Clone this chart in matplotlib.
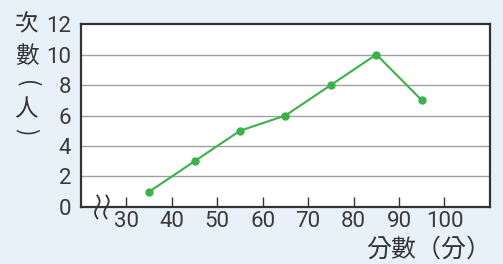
import matplotlib.pyplot as plt
import numpy as np

# score (x) vs number of people (y)
scores = [35, 45, 55, 65, 75, 85, 95]
people = [1, 3, 5, 6, 8, 10, 7]
x_ticks = [30, 40, 50, 60, 70, 80, 90, 100]
y_ticks = [0, 2, 4, 6, 8, 10, 12]

plt.rcParams['font.family'] = ['Roboto', 'Noto Sans CJK TC', 'DejaVu Sans']

bg = '#e8f0fa'
dark = '#333333'
green = '#3cb04a'
cjk = ['Noto Sans CJK TC']

fig = plt.figure(figsize=(5.03, 2.64), dpi=100, facecolor=bg)
ax = fig.add_axes([0.161, 0.216, 0.813, 0.693])
ax.set_facecolor('white')

ax.set_xlim(20, 110)
ax.set_ylim(0, 12)

for y in y_ticks[1:-1]:
    ax.axhline(y, color='#a0a0a0', lw=1.0, zorder=1)

ax.plot(scores, people, color=green, lw=1.5, marker='o', ms=5, zorder=3)

ax.set_xticks(x_ticks)
ax.set_yticks(y_ticks)
ax.tick_params(axis='x', direction='in', length=7, width=1, color=dark,
               labelsize=16, labelcolor='#3a3a3a', pad=3)
ax.tick_params(axis='y', length=0, labelsize=16, labelcolor='#3a3a3a', pad=7)

for s in ax.spines.values():
    s.set_color(dark)
    s.set_linewidth(1.6)

# axis break squiggles on the x axis
t = np.linspace(-1, 1, 40)
for dx in (0, 2.0):
    xs = 23.6 + dx + 0.5 * np.sin(t * np.pi)
    ys = t * 0.75
    ax.plot(xs, ys, color=dark, lw=1.3, clip_on=False, zorder=5)

# vertical y label, one character at a time
ylab = [('次', 25, 0, 17), ('數', 56, 0, 17), ('(', 84, -90, 16),
        ('人', 110, 0, 17), (')', 132, -90, 16)]
for ch, ypix, rot, fs in ylab:
    fig.text(27 / 503, 1 - ypix / 264, ch, ha='center', va='center',
             fontsize=fs, color=dark, family=cjk, rotation=rot,
             rotation_mode='anchor', fontweight='light')

fig.text(0.977, 0.005, '分數（分）', ha='right', va='bottom',
         fontsize=18, color=dark, family=cjk, fontweight='light')

fig.savefig('out.png', dpi=100, facecolor=bg)
